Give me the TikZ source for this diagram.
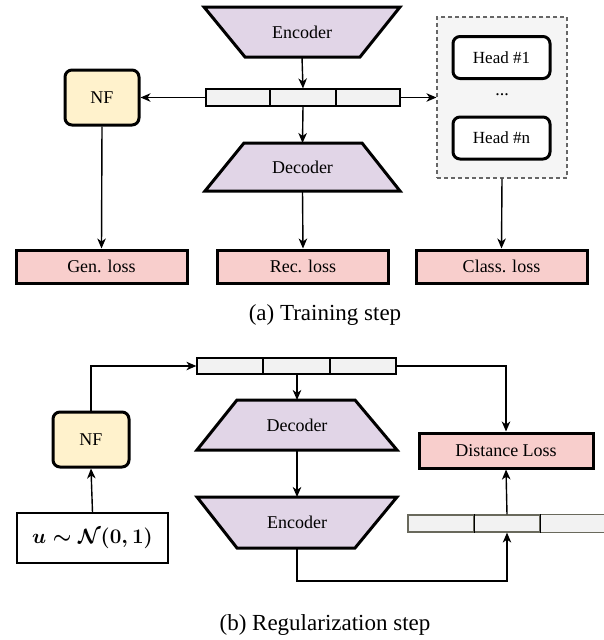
\documentclass[tikz,border=0pt]{standalone}
\usepackage{fontspec}
\setmainfont{Liberation Serif}
\usepackage{amsmath}
\usetikzlibrary{arrows.meta}
\definecolor{trapfill}{HTML}{E1D5E7}
\definecolor{nffill}{HTML}{FFF2CC}
\definecolor{lossfill}{HTML}{F8CECC}
\definecolor{barfill}{HTML}{F2F2F2}
\definecolor{boxfill}{HTML}{F5F5F5}
\definecolor{dashgray}{HTML}{666666}
\definecolor{olivegray}{RGB}{105,105,92}
\begin{document}
\begin{tikzpicture}[x=1pt,y=-1pt,
  lbl/.style={font=\fontsize{18}{20}\selectfont},
  trapbox/.style={rectangle, inner sep=0, outer sep=0},
  trapline/.style={draw, line width=3, fill=trapfill, line join=miter},
  nfbox/.style={rectangle, rounded corners=7, draw, line width=3, fill=nffill, minimum width=74, minimum height=55, lbl, outer sep=1.5},
  lossbox/.style={rectangle, draw, line width=3, fill=lossfill, minimum width=171, minimum height=33, lbl, outer sep=1.5, inner sep=0},
  headbox/.style={rectangle, rounded corners=7, draw, line width=3, fill=white, minimum width=97, minimum height=42, inner sep=0, font=\fontsize{17}{19}\selectfont},
  seg/.style={rectangle, draw, line width=1.3, fill=barfill, minimum height=17, inner sep=0, outer sep=0.6},
  arr/.style={-{Stealth[length=10pt,width=8.5pt,inset=3pt]}, line width=1.4},
  captext/.style={font=\fontsize{23}{26}\selectfont},
]
\useasboundingbox (0,0) rectangle (604,640);

% ---------------- (a) Training step ----------------
\node[trapbox, minimum width=196, minimum height=50] (encA) at (302,32) {};
\draw[trapline] (encA.north west) -- (encA.north east) -- ([xshift=-40]encA.south east) -- ([xshift=41]encA.south west) -- cycle;
\node[lbl] (encAt) at (encA) {Encoder};

\node[seg, minimum width=64] (a1) at (238,97.5) {};
\node[seg, minimum width=66] (a2) at (303,97.5) {};
\node[seg, minimum width=64] (a3) at (368,97.5) {};

\node[trapbox, minimum width=195, minimum height=48] (decA) at (302.5,167) {};
\draw[trapline] ([xshift=39]decA.north west) -- ([xshift=-38]decA.north east) -- (decA.south east) -- (decA.south west) -- cycle;
\node[lbl] (decAt) at (decA) {Decoder};

\node[nfbox] (nfA) at (102,97.5) {NF};

\node[rectangle, draw=dashgray, dash pattern=on 4pt off 3pt, line width=1.1, fill=boxfill, minimum width=130, minimum height=161] (heads) at (502,97.5) {};
\node[headbox] (h1) at (501.5,57.5) {Head \#1};
\node[lbl] (hdots) at (502,95) {...};
\node[headbox] (hn) at (501.5,138) {Head \#n};

\node[lossbox] (gen) at (101.5,266.5) {Gen. loss};
\node[lossbox] (rec) at (303,266.5) {Rec. loss};
\node[lossbox] (cls) at (501.5,266.5) {Class. loss};

\draw[arr] (encA.south) -- (a2.north);
\draw[arr] (a2.south) -- (decA.north);
\draw[arr] (a1.west) -- (nfA.east);
\draw[arr] (a3.east) -- (heads.west);
\draw[arr] (nfA.south) -- (gen.north);
\draw[arr] (decA.south) -- (rec.north);
\draw[arr] (heads.south) -- (cls.north);

\node[captext] (capA) at (325,315) {(a) Training step};

% ---------------- (b) Regularization step ----------------
\node[seg, minimum width=66, minimum height=16] (b1) at (230,366) {};
\node[seg, minimum width=67, minimum height=16] (b2) at (296.5,366) {};
\node[seg, minimum width=66, minimum height=16] (b3) at (363,366) {};

\node[nfbox, minimum width=76] (nfB) at (91,439.5) {NF};
\node[rectangle, draw, line width=1.4, fill=white, minimum width=151, minimum height=50, inner sep=0, outer sep=0.7, font=\fontsize{22.5}{24}\selectfont] (ubox) at (92.5,538) {$\boldsymbol{u\sim\mathcal{N}(0,1)}$};

\node[trapbox, minimum width=200, minimum height=50] (decB) at (297,425) {};
\draw[trapline] ([xshift=40]decB.north west) -- ([xshift=-42]decB.north east) -- (decB.south east) -- (decB.south west) -- cycle;
\node[lbl] (decBt) at (decB) {Decoder};

\node[trapbox, minimum width=200, minimum height=51] (encB) at (297,522.5) {};
\draw[trapline] (encB.north west) -- (encB.north east) -- ([xshift=-42]encB.south east) -- ([xshift=40]encB.south west) -- cycle;
\node[lbl] (encBt) at (encB) {Encoder};

\node[lossbox, minimum width=174, minimum height=35] (dl) at (506,450.5) {Distance Loss};

\node[seg, draw=olivegray, minimum width=66] (c1) at (441,523.5) {};
\node[seg, draw=olivegray, minimum width=66] (c2) at (507,523.5) {};
\node[rectangle, fill=barfill, minimum width=64, minimum height=17, inner sep=0] (c3) at (572,523.5) {};
\draw[olivegray, line width=1.3] (c3.north east) -- (c3.north west) -- (c3.south west) -- (c3.south east);
\draw[black, line width=1.3] (c1.north east) -- (c1.south east) (c2.north east) -- (c2.south east);

\coordinate (turn) at (295,581);
\draw[arr] (ubox.north) -- (nfB.south);
\draw[arr] (nfB.north) |- (b1.west);
\draw[arr] (b2.south -| decB.north) -- (decB.north);
\draw[arr] (decB.south) -- (encB.north);
\draw[arr] (b3.east) -| (dl.north);
\draw[arr] (encB.south) -- (encB.south |- turn) -| (c2.south);
\draw[arr] (c2.north) -- (dl.south);

\node[captext] (capB) at (325,625) {(b) Regularization step};
\end{tikzpicture}
\end{document}
